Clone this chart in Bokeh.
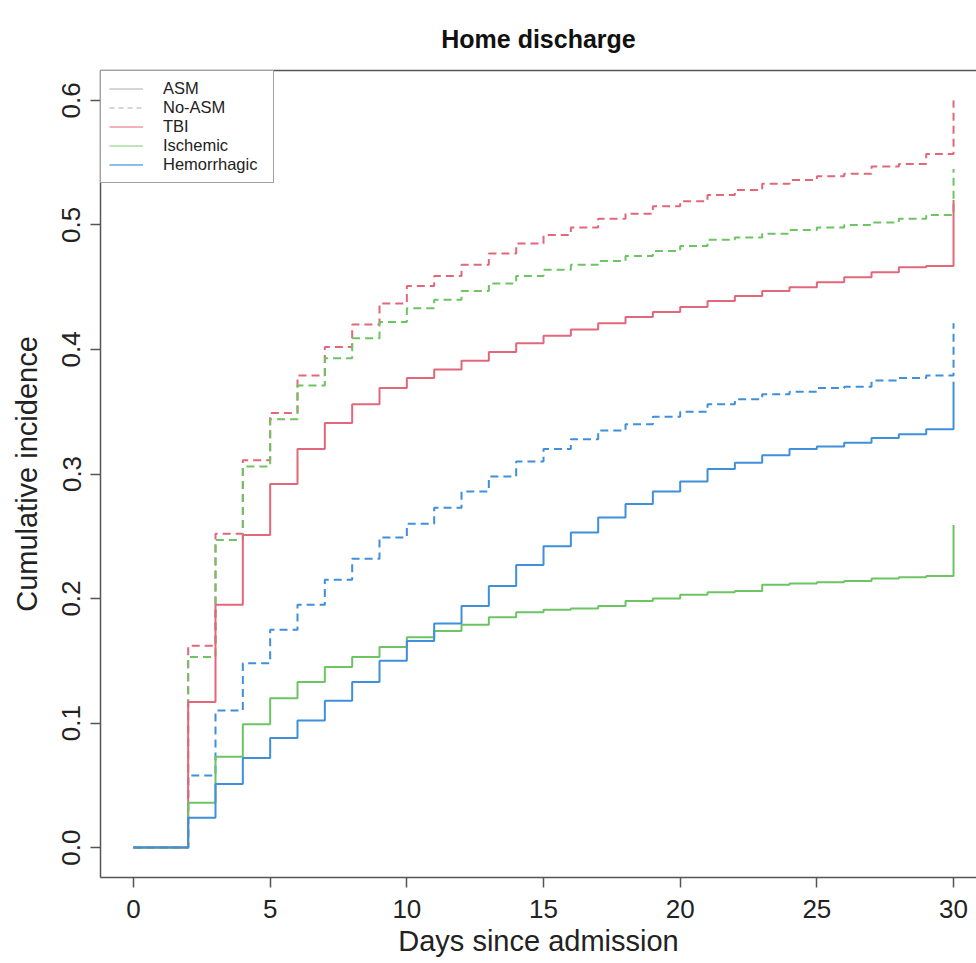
from bokeh.plotting import figure
from bokeh.models import Range1d, LinearAxis, FixedTicker, PrintfTickFormatter, Legend, LegendItem
from bokeh.embed import file_html
from bokeh.resources import INLINE

# ---- data ----
days = list(range(31))
tbi_asm = [0, 0, 0.117, 0.195, 0.251, 0.292, 0.320, 0.341, 0.356, 0.369, 0.377,
           0.384, 0.391, 0.398, 0.405, 0.411, 0.416, 0.421, 0.426, 0.430, 0.434,
           0.439, 0.443, 0.447, 0.450, 0.454, 0.458, 0.462, 0.466, 0.467, 0.520]
tbi_noasm = [0, 0, 0.162, 0.252, 0.311, 0.349, 0.379, 0.402, 0.420, 0.437, 0.451,
             0.459, 0.468, 0.477, 0.485, 0.492, 0.498, 0.505, 0.509, 0.515, 0.519,
             0.524, 0.528, 0.533, 0.536, 0.539, 0.541, 0.547, 0.549, 0.557, 0.600]
isch_asm = [0, 0, 0.036, 0.073, 0.099, 0.120, 0.133, 0.145, 0.153, 0.161, 0.169,
            0.174, 0.179, 0.185, 0.189, 0.191, 0.192, 0.194, 0.198, 0.200, 0.203,
            0.205, 0.206, 0.211, 0.212, 0.213, 0.214, 0.216, 0.217, 0.218, 0.259]
isch_noasm = [0, 0, 0.153, 0.247, 0.306, 0.344, 0.371, 0.393, 0.409, 0.422, 0.433,
              0.440, 0.447, 0.453, 0.459, 0.464, 0.468, 0.471, 0.475, 0.479, 0.483,
              0.488, 0.490, 0.493, 0.496, 0.498, 0.500, 0.502, 0.505, 0.508, 0.545]
hem_asm = [0, 0, 0.024, 0.051, 0.072, 0.088, 0.102, 0.118, 0.133, 0.150, 0.166,
           0.180, 0.194, 0.210, 0.227, 0.242, 0.253, 0.265, 0.276, 0.286, 0.294,
           0.304, 0.309, 0.315, 0.320, 0.322, 0.325, 0.329, 0.332, 0.336, 0.374]
hem_noasm = [0, 0, 0.058, 0.110, 0.148, 0.175, 0.195, 0.215, 0.232, 0.249, 0.260,
             0.273, 0.286, 0.298, 0.310, 0.320, 0.328, 0.335, 0.340, 0.346, 0.350,
             0.356, 0.360, 0.364, 0.366, 0.369, 0.370, 0.375, 0.377, 0.379, 0.421]

x_ticks = [0, 5, 10, 15, 20, 25, 30]
y_ticks = [0.0, 0.1, 0.2, 0.3, 0.4, 0.5, 0.6]
legend_labels = ["ASM", "No-ASM", "TBI", "Ischemic", "Hemorrhagic"]
title_text = "Home discharge"
x_label = "Days since admission"
y_label = "Cumulative incidence"

FONT = "Liberation Sans"
RED, GREEN, BLUE = "#E2677A", "#6CC463", "#3F8FDB"
AX = "#555555"

p = figure(width=976, height=963, output_backend="svg", toolbar_location=None,
           x_range=Range1d(-1.207, 30.84), y_range=Range1d(-0.024, 0.624),
           min_border_left=100, min_border_right=0, min_border_top=70, min_border_bottom=86,
           x_axis_label=x_label, y_axis_label=y_label,
           background_fill_color="white", border_fill_color="white")
p.outline_line_color = None
p.grid.visible = False

# title
p.title.text = title_text
p.title.align = "center"
p.title.offset = 5
p.title.vertical_align = "top"
p.title.standoff = 32
p.title.text_font = FONT
p.title.text_font_size = "25px"
p.title.text_font_style = "bold"
p.title.text_color = "#111111"

# axes
for ax in (p.xaxis[0], p.yaxis[0]):
    ax.axis_line_color = AX
    ax.axis_line_width = 1.5
    ax.major_tick_line_color = AX
    ax.major_tick_line_width = 1.5
    ax.major_tick_out = 10
    ax.major_tick_in = 0
    ax.minor_tick_line_color = None
    ax.major_label_text_font = FONT
    ax.major_label_text_font_size = "26px"
    ax.major_label_text_color = "#222222"
    ax.axis_label_text_font = FONT
    ax.axis_label_text_font_size = "29px"
    ax.axis_label_text_font_style = "normal"
    ax.axis_label_text_color = "#222222"

p.xaxis[0].ticker = FixedTicker(ticks=x_ticks)
p.xaxis[0].formatter = PrintfTickFormatter(format="%d")
p.xaxis[0].major_label_standoff = 12
p.xaxis[0].axis_label_standoff = 4

p.yaxis[0].ticker = FixedTicker(ticks=y_ticks)
p.yaxis[0].formatter = PrintfTickFormatter(format="%.1f")
p.yaxis[0].major_label_orientation = "vertical"
p.yaxis[0].major_label_standoff = 10
p.yaxis[0].axis_label_standoff = 17

top_axis = LinearAxis(ticker=FixedTicker(ticks=[]), major_label_text_font_size="0px",
                      axis_line_color=AX, axis_line_width=1.5,
                      major_tick_line_color=None, minor_tick_line_color=None,
                      major_label_standoff=0)
p.add_layout(top_axis, "above")

# curves
p.step(days, tbi_noasm, mode="after", line_color=RED, line_width=2, line_dash="8 5")
p.step(days, isch_noasm, mode="after", line_color=GREEN, line_width=2, line_dash="8 5")
p.step(days, hem_noasm, mode="after", line_color=BLUE, line_width=2, line_dash="8 5")
p.step(days, tbi_asm, mode="after", line_color=RED, line_width=2)
p.step(days, isch_asm, mode="after", line_color=GREEN, line_width=2)
p.step(days, hem_asm, mode="after", line_color=BLUE, line_width=2)

# legend (key samples only; NaN data so nothing is drawn in the plot area)
leg_styles = [("#C8C8C8", "solid"), ("#C8C8C8", "5 4"), ("#EE98A4", "solid"),
              ("#A6DE9C", "solid"), ("#5FA6EA", "solid")]
nan = float("nan")
items = []
for lab, (col, dash) in zip(legend_labels, leg_styles):
    r = p.line(x=[nan, nan], y=[nan, nan], line_color=col, line_width=1.5, line_dash=dash)
    items.append(LegendItem(label=lab, renderers=[r]))

legend = Legend(items=items, location="top_left", margin=0, padding=8, spacing=0,
                label_height=17, glyph_height=17, glyph_width=34, label_standoff=20,
                label_width=102,
                border_line_color="#444444", border_line_width=1.5,
                background_fill_color="white", background_fill_alpha=1.0,
                label_text_font=FONT, label_text_font_size="16.5px",
                label_text_color="#222222")
p.add_layout(legend)

open("out.html", "w").write(file_html(p, INLINE))
